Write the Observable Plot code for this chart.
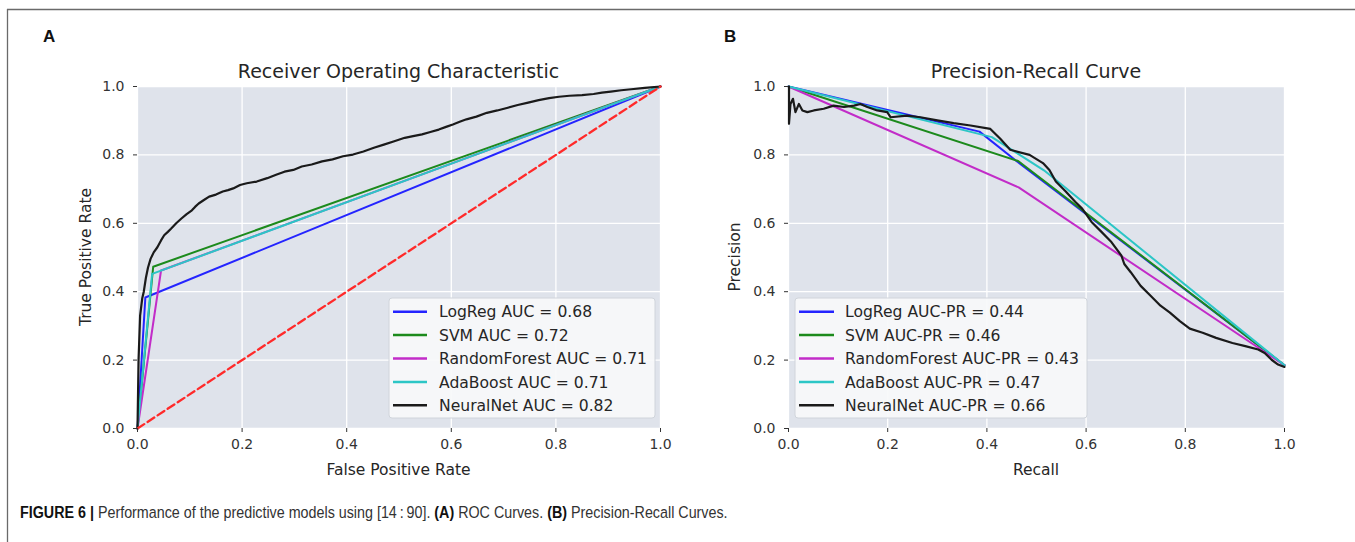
<!DOCTYPE html>
<html><head><meta charset="utf-8">
<script src="https://cdn.jsdelivr.net/npm/d3@7"></script>
<script src="https://cdn.jsdelivr.net/npm/@observablehq/plot@0.6"></script>
<style>
html,body{margin:0;padding:0;background:#fff;}
#wrap{position:relative;width:1355px;height:542px;overflow:hidden;background:#fff;}
#wrap > svg{position:absolute;}
</style></head><body><div id="wrap"></div>
<script>
// ---------- data ----------
const models = ["LogReg", "SVM", "RandomForest", "AdaBoost", "NeuralNet"];
const modelColors = ["#2424ff", "#1c8a1c", "#c22cc8", "#2cc6c6", "#1a1a1a"];
const rocAUC = ["0.68", "0.72", "0.71", "0.71", "0.82"];
const prAUC = ["0.44", "0.46", "0.43", "0.47", "0.66"];
const axisTicks = [0, 0.2, 0.4, 0.6, 0.8, 1.0];

const rocChance = [[0, 0], [1, 1]];
const rocLogReg = [[0, 0], [0.015, 0.383], [1, 1]];
const rocSVM = [[0, 0], [0.030, 0.473], [1, 1]];
const rocRandomForest = [[0, 0], [0.045, 0.462], [1, 1]];
const rocAdaBoost = [[0, 0], [0.028, 0.452], [1, 1]];
const rocNeuralNet = [[0,0],[0.002,0.2],[0.005,0.33],[0.009,0.38],[0.012,0.40],[0.016,0.44],[0.02,0.47],[0.025,0.496],[0.031,0.515],[0.038,0.53],[0.045,0.55],[0.051,0.565],[0.058,0.575],[0.064,0.584],[0.074,0.60],[0.084,0.614],[0.094,0.627],[0.104,0.638],[0.11,0.648],[0.117,0.658],[0.127,0.668],[0.137,0.678],[0.15,0.684],[0.163,0.693],[0.173,0.697],[0.183,0.702],[0.196,0.712],[0.209,0.717],[0.228,0.722],[0.248,0.732],[0.265,0.742],[0.281,0.751],[0.298,0.756],[0.314,0.766],[0.333,0.772],[0.353,0.781],[0.373,0.787],[0.393,0.796],[0.412,0.801],[0.432,0.81],[0.452,0.821],[0.471,0.83],[0.491,0.84],[0.511,0.85],[0.527,0.855],[0.544,0.86],[0.56,0.867],[0.576,0.874],[0.59,0.882],[0.603,0.889],[0.616,0.897],[0.629,0.904],[0.648,0.912],[0.668,0.923],[0.688,0.93],[0.708,0.938],[0.727,0.946],[0.747,0.953],[0.767,0.96],[0.787,0.966],[0.806,0.97],[0.826,0.973],[0.85,0.975],[0.872,0.978],[0.888,0.982],[0.905,0.985],[0.925,0.989],[0.944,0.992],[0.97,0.996],[1,1]];

const prLogReg = [[0, 1], [0.385, 0.868], [0.466, 0.775], [1, 0.185]];
const prSVM = [[0, 1], [0.463, 0.782], [1, 0.185]];
const prRandomForest = [[0, 1], [0.464, 0.705], [1, 0.185]];
const prAdaBoost = [[0, 1], [0.41, 0.852], [0.515, 0.755], [1, 0.185]];
const prNeuralNet = [[0.001,1.0],[0.001,0.891],[0.004,0.949],[0.009,0.964],[0.014,0.925],[0.021,0.949],[0.028,0.930],[0.038,0.925],[0.051,0.930],[0.071,0.935],[0.091,0.944],[0.112,0.940],[0.132,0.944],[0.145,0.949],[0.159,0.940],[0.179,0.930],[0.199,0.925],[0.206,0.910],[0.239,0.915],[0.266,0.910],[0.300,0.901],[0.333,0.893],[0.367,0.886],[0.407,0.876],[0.427,0.847],[0.447,0.815],[0.486,0.80],[0.513,0.776],[0.526,0.756],[0.539,0.722],[0.559,0.693],[0.578,0.663],[0.592,0.643],[0.611,0.604],[0.631,0.575],[0.651,0.545],[0.671,0.506],[0.677,0.481],[0.690,0.457],[0.710,0.417],[0.730,0.388],[0.750,0.359],[0.769,0.339],[0.789,0.314],[0.809,0.292],[0.835,0.28],[0.862,0.265],[0.895,0.25],[0.921,0.241],[0.947,0.231],[0.960,0.221],[0.974,0.201],[0.987,0.187],[1.0,0.18]];

const rocSeries = [rocLogReg, rocSVM, rocRandomForest, rocAdaBoost, rocNeuralNet];
const prSeries = [prLogReg, prSVM, prRandomForest, prAdaBoost, prNeuralNet];

// ---------- styles ----------
const BG = "#dfe3eb";
const FONT = "'DejaVu Sans', sans-serif";
const wrap = document.getElementById("wrap");

function panel(series, extra, left, width, marginRight) {
  const marks = [
    Plot.frame({fill: BG, stroke: "none"}),
    Plot.gridX(axisTicks, {stroke: "#fff", strokeOpacity: 1, strokeWidth: 1.3}),
    Plot.gridY(axisTicks, {stroke: "#fff", strokeOpacity: 1, strokeWidth: 1.3}),
    ...series.map((s, i) => Plot.line(s, {x: d => d[0], y: d => d[1], stroke: modelColors[i], strokeWidth: i === 4 ? 2.2 : 2})),
    ...extra,
    Plot.axisX({ticks: axisTicks, tickFormat: d3.format(".1f"), tickSize: 4, tickPadding: 7, label: null, color: "#333", fontSize: 14}),
    Plot.axisY({ticks: axisTicks, tickFormat: d3.format(".1f"), tickSize: 4, tickPadding: 9, label: null, color: "#333", fontSize: 14})
  ];
  const svg = Plot.plot({
    width, height: 480,
    marginTop: 86, marginBottom: 52, marginLeft: 137, marginRight,
    x: {domain: [0, 1]},
    y: {domain: [0, 1]},
    style: {fontFamily: FONT, background: "transparent", overflow: "visible"},
    marks
  });
  svg.style.left = left + "px";
  svg.style.top = "0px";
  wrap.appendChild(svg);
}

panel(rocSeries, [Plot.line(rocChance, {x: d => d[0], y: d => d[1], stroke: "#ff2a2a", strokeWidth: 2.3, strokeDasharray: "8,4"})], 0, 690, 30);
panel(prSeries, [], 651, 660, 27);

// ---------- overlay text, legends, frame ----------
const ov = d3.select(wrap).append("svg")
  .attr("width", 1355).attr("height", 542)
  .style("left", "0px").style("top", "0px").style("pointer-events", "none");

ov.append("line").attr("x1", 7).attr("x2", 1355).attr("y1", 9.5).attr("y2", 9.5).attr("stroke", "#6a6a6a").attr("stroke-width", 1.3);
ov.append("line").attr("x1", 7.5).attr("x2", 7.5).attr("y1", 9).attr("y2", 542).attr("stroke", "#6a6a6a").attr("stroke-width", 1.3);

const panels = [
  {letter: "A", lx: 43, title: "Receiver Operating Characteristic", cx: 398.5, xl: "False Positive Rate", yl: "True Positive Rate", ylx: 91,
   legend: models.map((m, i) => `${m} AUC = ${rocAUC[i]}`), box: [389, 655], line: [393, 427], tx: 439},
  {letter: "B", lx: 724, title: "Precision-Recall Curve", cx: 1036, xl: "Recall", yl: "Precision", ylx: 740,
   legend: models.map((m, i) => `${m} AUC-PR = ${prAUC[i]}`), box: [795, 1087], line: [799, 834], tx: 845}
];

panels.forEach(p => {
  ov.append("text").attr("x", p.lx).attr("y", 42).text(p.letter)
    .attr("font-family", "'Liberation Sans', Arial, sans-serif").attr("font-weight", "bold").attr("font-size", 17).attr("fill", "#111");
  ov.append("text").attr("x", p.cx).attr("y", 78).attr("text-anchor", "middle").text(p.title)
    .attr("font-family", FONT).attr("font-size", 19).attr("fill", "#262626");
  ov.append("text").attr("x", p.cx).attr("y", 474.5).attr("text-anchor", "middle").text(p.xl)
    .attr("font-family", FONT).attr("font-size", 15.5).attr("fill", "#262626");
  ov.append("text").attr("transform", `translate(${p.ylx},257) rotate(-90)`).attr("text-anchor", "middle").text(p.yl)
    .attr("font-family", FONT).attr("font-size", 15.5).attr("fill", "#262626");
  ov.append("rect").attr("x", p.box[0]).attr("y", 298).attr("width", p.box[1] - p.box[0]).attr("height", 120)
    .attr("rx", 3).attr("fill", "#f7f8fa").attr("fill-opacity", 0.92).attr("stroke", "#d0d4db").attr("stroke-width", 1);
  p.legend.forEach((t, i) => {
    const cy = 311.7 + i * 23.4;
    ov.append("line").attr("x1", p.line[0]).attr("x2", p.line[1]).attr("y1", cy).attr("y2", cy)
      .attr("stroke", modelColors[i]).attr("stroke-width", 2.5);
    ov.append("text").attr("x", p.tx).attr("y", cy + 5.7).text(t)
      .attr("font-family", FONT).attr("font-size", 15.6).attr("fill", "#262626");
  });
});

// caption
const cap = ov.append("text").attr("font-family", "'Liberation Sans', Arial, sans-serif").attr("font-size", 17).attr("fill", "#333");
[["FIGURE 6 |", true], [" Performance of the predictive models using [14\u2009:\u200990]. ", false], ["(A)", true], [" ROC Curves. ", false], ["(B)", true], [" Precision-Recall Curves.", false]]
  .forEach(([t, b]) => cap.append("tspan").text(t).attr("font-weight", b ? "bold" : "normal").attr("fill", b ? "#111" : "#333"));
const w = cap.node().getComputedTextLength();
cap.attr("transform", `translate(20,518) scale(${708 / w},1)`);
</script></body></html>
